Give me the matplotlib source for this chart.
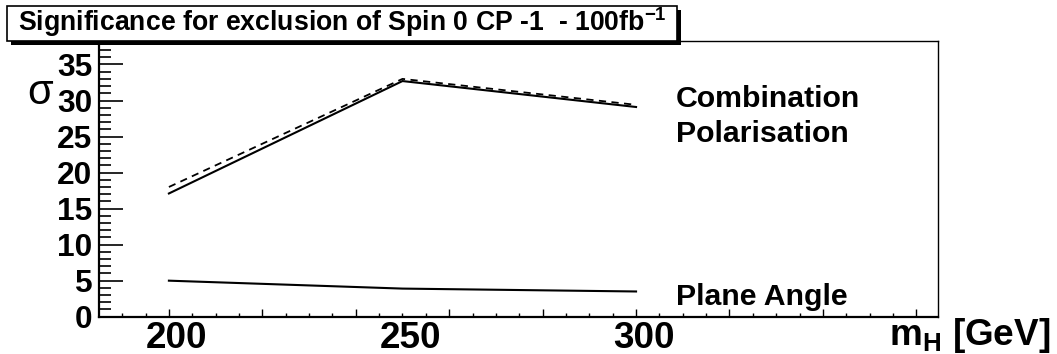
import matplotlib
matplotlib.use("Agg")
import matplotlib.pyplot as plt
from matplotlib.patches import Rectangle
from matplotlib.ticker import MultipleLocator, NullFormatter
import matplotlib.transforms as mtransforms

plt.rcParams['font.family'] = ['Liberation Sans', 'DejaVu Sans']
plt.rcParams['mathtext.fontset'] = 'custom'
plt.rcParams['mathtext.rm'] = 'Liberation Sans:bold'
plt.rcParams['mathtext.bf'] = 'Liberation Sans:bold'
plt.rcParams['mathtext.it'] = 'Liberation Sans:bold'

# Higgs masses and exclusion significances
mass = [200, 250, 300]
combination = [17.1, 32.7, 29.1]
polarisation = [18.0, 33.0, 29.4]
plane_angle = [5.0, 3.9, 3.5]

x_labels = [200, 250, 300]
y_ticks = [0, 5, 10, 15, 20, 25, 30, 35]

W, H = 1057, 354
DPI = 100
fig = plt.figure(figsize=(W / DPI, H / DPI), dpi=DPI)


def fx(px):
    return px / W


def fy(py):
    return 1 - py / H


ax = fig.add_axes([fx(99.3), fy(316.7), fx(938.3) - fx(99.3), fy(40.7) - fy(316.7)])
ax.set_xlim(185.1, 364.7)
ax.set_ylim(0, 38.3)

ax.plot(mass, combination, color='black', lw=1.5, solid_joinstyle='miter')
ax.plot(mass, polarisation, color='black', lw=1.3, ls=(0, (4, 3)))
ax.plot(mass, plane_angle, color='black', lw=1.5)

# axis frame
for side in ['left', 'bottom']:
    ax.spines[side].set_linewidth(1.6)
for side in ['top', 'right']:
    ax.spines[side].set_linewidth(1.0)

# y axis ticks
ax.yaxis.set_major_locator(MultipleLocator(5))
ax.yaxis.set_minor_locator(MultipleLocator(1))
ax.tick_params(axis='y', which='major', direction='in', length=17, width=1.2,
               labelsize=22.8, pad=5, right=False)
ax.tick_params(axis='y', which='minor', direction='in', length=8.5, width=1.2, right=False)
ax.set_yticks(y_ticks)
ax.set_yticklabels([str(v) for v in y_ticks], fontweight='bold', fontsize=22.8)

# x axis ticks (unlabelled), labels placed below
ax.xaxis.set_major_locator(MultipleLocator(20))
ax.xaxis.set_minor_locator(MultipleLocator(5))
ax.xaxis.set_major_formatter(NullFormatter())
ax.tick_params(axis='x', which='major', direction='in', length=5.5, width=1.0, top=False)
ax.tick_params(axis='x', which='minor', direction='in', length=2.8, width=1.0, top=False)

xtrans = mtransforms.blended_transform_factory(ax.transData, fig.transFigure) + \
    mtransforms.ScaledTranslation(8 / DPI, 0, fig.dpi_scale_trans)
for v in x_labels:
    ax.text(v, fy(348), str(v), transform=xtrans, ha='center', va='baseline',
            fontsize=26.6, fontweight='bold')

fig.text(fx(1050), fy(345), r'm$_{\mathbf{H}}$ [GeV]', ha='right', va='baseline',
         fontsize=26.6, fontweight='bold')
fig.text(fx(40), fy(93), '\u03c3', ha='center', va='center', fontsize=30)

# series labels
fig.text(fx(676), fy(106.7), 'Combination', ha='left', va='baseline',
         fontsize=21.8, fontweight='bold')
fig.text(fx(676), fy(141.7), 'Polarisation', ha='left', va='baseline',
         fontsize=21.8, fontweight='bold')
fig.text(fx(676), fy(305), 'Plane Angle', ha='left', va='baseline',
         fontsize=21.8, fontweight='bold')

# title box with shadow
shadow = Rectangle((fx(11), fy(45)), fx(677) - fx(7), fy(6) - fy(41),
                   transform=fig.transFigure, facecolor='black', edgecolor='black',
                   lw=0, zorder=5)
box = Rectangle((fx(7), fy(41)), fx(677) - fx(7), fy(6) - fy(41),
                transform=fig.transFigure, facecolor='white', edgecolor='black',
                lw=1.2, zorder=6)
fig.add_artist(shadow)
fig.add_artist(box)

title = fig.text(fx(342), fy(31), 'Significance for exclusion of Spin 0 CP -1  - 100fb$^{-1}$',
                 ha='center', va='baseline', fontsize=19.5, fontweight='bold', zorder=7)
# keep the title inside its box
fig.canvas.draw()
bb = title.get_window_extent()
target = 649.0
if bb.width > target:
    title.set_fontsize(19.5 * target / bb.width)

fig.savefig('out.png', dpi=DPI)
